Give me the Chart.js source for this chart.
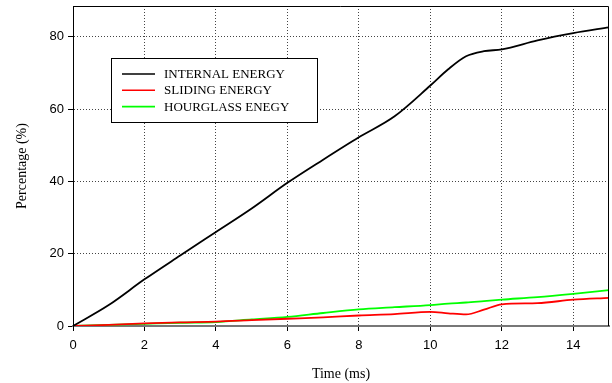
<!DOCTYPE html>
<html>
<head>
<meta charset="utf-8">
<script src="https://cdn.jsdelivr.net/npm/chart.js@4"></script>
<style>
  html, body { margin: 0; padding: 0; background: #fff; }
  #wrap { width: 612px; height: 383px; }
</style>
</head>
<body>
<div id="wrap"><canvas id="myChart"></canvas></div>
<script>
// time axis (ms)
const time = [0, 1, 2, 3, 4, 5, 6, 7, 8, 9, 10, 10.5, 11, 11.5, 12, 13, 14, 15];
// energy shares (%)
const internalEnergy  = [0, 5.8, 12.9, 19.5, 26, 32.5, 39.6, 46, 52.2, 58, 66.5, 71, 74.6, 76, 76.5, 79, 81, 82.6];
const slidingEnergy   = [0, 0.3, 0.7, 1.0, 1.2, 1.6, 2.0, 2.4, 2.9, 3.3, 3.9, 3.5, 3.2, 4.5, 6.0, 6.3, 7.3, 7.8];
const hourglassEnergy = [0, 0.3, 0.6, 0.9, 1.1, 1.8, 2.5, 3.6, 4.6, 5.2, 5.8, 6.2, 6.5, 6.9, 7.3, 8.0, 8.9, 9.9];
const seriesNames = ['INTERNAL ENERGY', 'SLIDING ENERGY', 'HOURGLASS ENEGY'];
const seriesColors = ['#000000', '#ff0000', '#00ff00'];
const xTicks = [0, 2, 4, 6, 8, 10, 12, 14];
const yTicks = [0, 20, 40, 60, 80];

const toPoints = ys => ys.map((y, i) => ({x: time[i], y: y}));

const ctx = document.getElementById('myChart');

// frame around the plot + legend box inside the plot
const framePlugin = {
  id: 'frame',
  afterDraw(chart) {
    const c = chart.ctx;
    const a = chart.chartArea;
    c.save();
    c.strokeStyle = '#000';
    c.lineWidth = 1;
    c.beginPath();
    c.moveTo(a.left, a.top + 0.5);
    c.lineTo(a.right - 0.5, a.top + 0.5);
    c.lineTo(a.right - 0.5, a.bottom);
    c.stroke();

    // legend
    const bx = 111, by = 58, bw = 206, bh = 64;
    c.fillStyle = '#fff';
    c.fillRect(bx, by, bw, bh);
    c.strokeRect(bx + 0.5, by + 0.5, bw, bh);
    c.font = '13px "Liberation Serif", "Times New Roman", serif';
    c.textBaseline = 'middle';
    chart.data.datasets.forEach((ds, i) => {
      const y = by + 16 + i * 16.3;
      c.strokeStyle = ds.borderColor;
      c.lineWidth = 1.6;
      c.beginPath();
      c.moveTo(122, y);
      c.lineTo(155, y);
      c.stroke();
      c.fillStyle = '#000';
      c.fillText(ds.label, 164, y + 0.5);
    });
    c.restore();
  }
};

new Chart(ctx, {
  type: 'line',
  data: {
    datasets: [
      { label: seriesNames[0], data: toPoints(internalEnergy), borderColor: seriesColors[0] },
      { label: seriesNames[1], data: toPoints(slidingEnergy), borderColor: seriesColors[1] },
      { label: seriesNames[2], data: toPoints(hourglassEnergy), borderColor: seriesColors[2] }
    ]
  },
  options: {
    responsive: true,
    maintainAspectRatio: false,
    animation: false,
    layout: { padding: { top: 6, right: 3, left: 14, bottom: 0 } },
    elements: {
      point: { radius: 0 },
      line: { borderWidth: 1.8, tension: 0, cubicInterpolationMode: 'monotone' }
    },
    plugins: {
      legend: { display: false },
      tooltip: { enabled: false }
    },
    scales: {
      x: {
        type: 'linear',
        min: 0,
        max: 15,
        afterBuildTicks: s => { s.ticks = xTicks.map(v => ({value: v})); },
        afterFit: s => { s.height = 57; s.paddingLeft = 0; s.paddingRight = 0; },
        grid: {
          color: '#444',
          lineWidth: 1,
          tickLength: 5,
          tickColor: '#000',
          tickBorderDash: []
        },
        border: { color: '#777', width: 2, dash: [1, 2] },
        ticks: {
          color: '#000',
          padding: 7,
          maxRotation: 0,
          font: { family: '"Liberation Sans", Arial, sans-serif', size: 13 }
        },
        title: {
          display: true,
          text: 'Time (ms)',
          color: '#000',
          padding: { top: 5, bottom: 0 },
          font: { family: '"Liberation Serif", "Times New Roman", serif', size: 14 }
        }
      },
      y: {
        min: 0,
        max: 88.5,
        afterBuildTicks: s => { s.ticks = yTicks.map(v => ({value: v})); },
        afterFit: s => { s.width = 59; s.paddingTop = 0; s.paddingBottom = 0; },
        grid: {
          color: '#444',
          lineWidth: 1,
          tickLength: 5,
          tickColor: '#000',
          tickBorderDash: []
        },
        border: { color: '#000', width: 1, dash: [1, 2] },
        ticks: {
          color: '#000',
          padding: 4,
          font: { family: '"Liberation Sans", Arial, sans-serif', size: 13 }
        },
        title: {
          display: true,
          text: 'Percentage (%)',
          color: '#000',
          padding: { top: 0, bottom: 0 },
          font: { family: '"Liberation Serif", "Times New Roman", serif', size: 14 }
        }
      }
    }
  },
  plugins: [framePlugin]
});
</script>
</body>
</html>
